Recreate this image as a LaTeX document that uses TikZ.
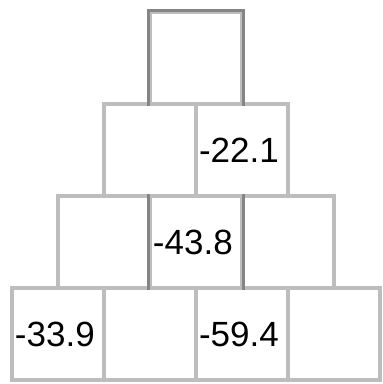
\documentclass[tikz,border=0pt]{standalone}
\usepackage{fontspec}
\setmainfont{Liberation Sans}
\definecolor{lightedge}{HTML}{BDBDBD}
\definecolor{darkedge}{HTML}{858585}
\begin{document}
\begin{tikzpicture}[x=1pt,y=-1pt,
  cell/.style={draw=lightedge, line width=3.2pt, fill=none,
    minimum width=92pt, minimum height=92pt, text width=86pt,
    inner xsep=3pt, inner ysep=0pt, align=left,
    font=\fontsize{35}{40}\selectfont},
  darkline/.style={draw=darkedge, line width=3.2pt}]
\useasboundingbox (0,0) rectangle (383,384);
% row 1
\node[cell] (r1c1) at (196,58) {};
% row 2
\node[cell] (r2c1) at (150,150) {};
\node[cell] (r2c2) at (242,150) {-22.1};
% row 3
\node[cell] (r3c1) at (104,242) {};
\node[cell] (r3c2) at (196,242) {-43.8};
\node[cell] (r3c3) at (288,242) {};
% row 4
\node[cell] (r4c1) at (58,334) {-33.9};
\node[cell] (r4c2) at (150,334) {};
\node[cell] (r4c3) at (242,334) {-59.4};
\node[cell] (r4c4) at (334,334) {};
% darker edges
\draw[darkline] (r1c1.south west) -- (r1c1.north west) -- (r1c1.north east) -- (r1c1.south east);
\draw[darkline] (r3c2.north west) -- (r3c2.south west);
\draw[darkline] (r3c2.north east) -- (r3c2.south east);
\end{tikzpicture}
\end{document}
